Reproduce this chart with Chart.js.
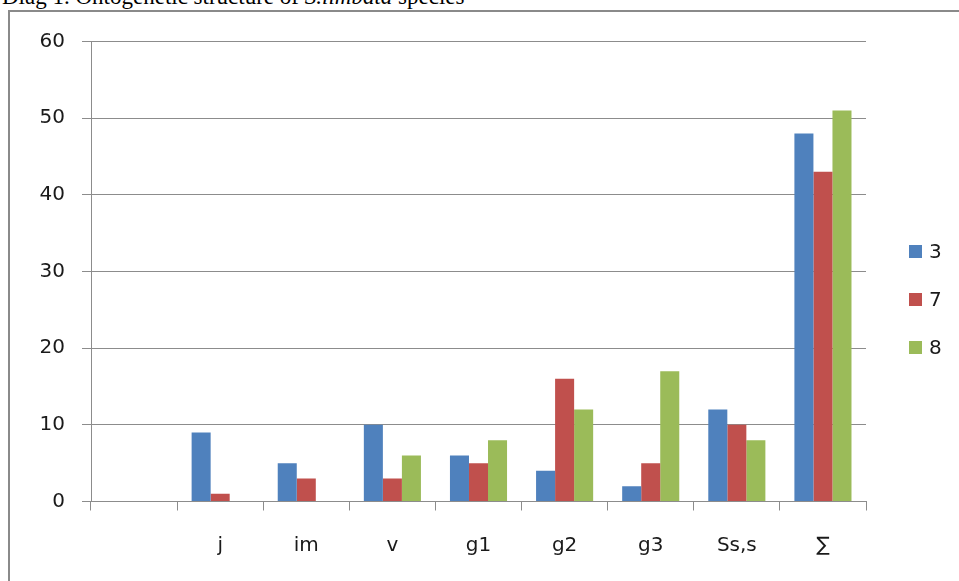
<!DOCTYPE html>
<html>
<head>
<meta charset="utf-8">
<script src="https://cdn.jsdelivr.net/npm/chart.js@4.4.0/dist/chart.umd.min.js"></script>
<style>
    html, body { margin: 0; padding: 0; background: #fff; overflow: hidden; }
    body { width: 959px; height: 581px; position: relative; }
    #caption {
        position: absolute; left: 2px; top: -15px;
        font: 23px/23px "Liberation Serif", "Times New Roman", serif;
        color: #000; white-space: nowrap;
    }
    #frame {
        position: absolute; left: 8px; top: 10px; width: 960px; height: 580px;
        border-left: 2px solid #8a8a8a; border-top: 2px solid #8a8a8a;
    }
    #wrap { position: absolute; left: 0; top: 0; width: 949px; height: 569px; }
    #legend {
        position: absolute; left: 899px; top: 215px;
        font: 20px "DejaVu Sans", sans-serif; color: #1a1a1a;
    }
    #legend .item { height: 48px; display: flex; align-items: center; }
    #legend .box { width: 13px; height: 13px; margin-right: 7px; }
</style>
</head>
<body>
<div id="caption">Diag 1. Ontogenetic structure of <i>S.limbata</i> species</div>
<div id="frame">
    <div id="wrap"><canvas id="myChart"></canvas></div>
    <div id="legend"></div>
</div>
<script>
// age states along the x axis, the first slot is left empty
const categories = ["", "j", "im", "v", "g1", "g2", "g3", "Ss,s", "\u2211"];
const seriesNames = ["3", "7", "8"];
const series3 = [null, 9, 5, 10, 6, 4, 2, 12, 48];
const series7 = [null, 1, 3, 3, 5, 16, 5, 10, 43];
const series8 = [null, 0, 0, 6, 8, 12, 17, 8, 51];
const yTicks = [0, 10, 20, 30, 40, 50, 60];

const colors = ['#4f81bd', '#c0504d', '#9bbb59'];
const gridColor = '#8c8c8c';
const tickFont = { family: '"DejaVu Sans", sans-serif', size: 20 };

const datasets = [series3, series7, series8].map((values, i) => ({
    label: seriesNames[i],
    data: values,
    backgroundColor: colors[i],
    borderWidth: 0,
    barPercentage: 1,
    categoryPercentage: 0.663
}));

const ctx = document.getElementById('myChart').getContext('2d');
const myChart = new Chart(ctx, {
    type: 'bar',
    data: {
        labels: categories,
        datasets: datasets
    },
    options: {
        responsive: true,
        maintainAspectRatio: false,
        animation: false,
        layout: {
            padding: { top: 29.5, right: 93, bottom: 0, left: 0 }
        },
        plugins: {
            legend: { display: false },
            tooltip: { enabled: false }
        },
        scales: {
            x: {
                grid: {
                    offset: true,
                    drawOnChartArea: false,
                    drawTicks: true,
                    tickLength: 9,
                    color: gridColor
                },
                border: { display: true, color: gridColor, width: 1 },
                ticks: {
                    font: tickFont,
                    color: '#1a1a1a',
                    padding: 23,
                    maxRotation: 0,
                    autoSkip: false
                },
                afterFit: function (scale) { scale.height = 79.5; }
            },
            y: {
                min: 0,
                max: 60,
                afterBuildTicks: function (scale) {
                    scale.ticks = yTicks.map(v => ({ value: v }));
                },
                grid: {
                    drawTicks: true,
                    tickLength: 9,
                    color: gridColor,
                    lineWidth: 1
                },
                border: { display: true, color: gridColor, width: 1 },
                ticks: {
                    font: tickFont,
                    color: '#1a1a1a',
                    padding: 17
                },
                afterFit: function (scale) { scale.width = 81; }
            }
        }
    }
});

// legend on the right, built from the same series list
const legend = document.getElementById('legend');
seriesNames.forEach((name, i) => {
    const item = document.createElement('div');
    item.className = 'item';
    const box = document.createElement('span');
    box.className = 'box';
    box.style.background = colors[i];
    const text = document.createElement('span');
    text.textContent = name;
    item.appendChild(box);
    item.appendChild(text);
    legend.appendChild(item);
});
</script>
</body>
</html>
